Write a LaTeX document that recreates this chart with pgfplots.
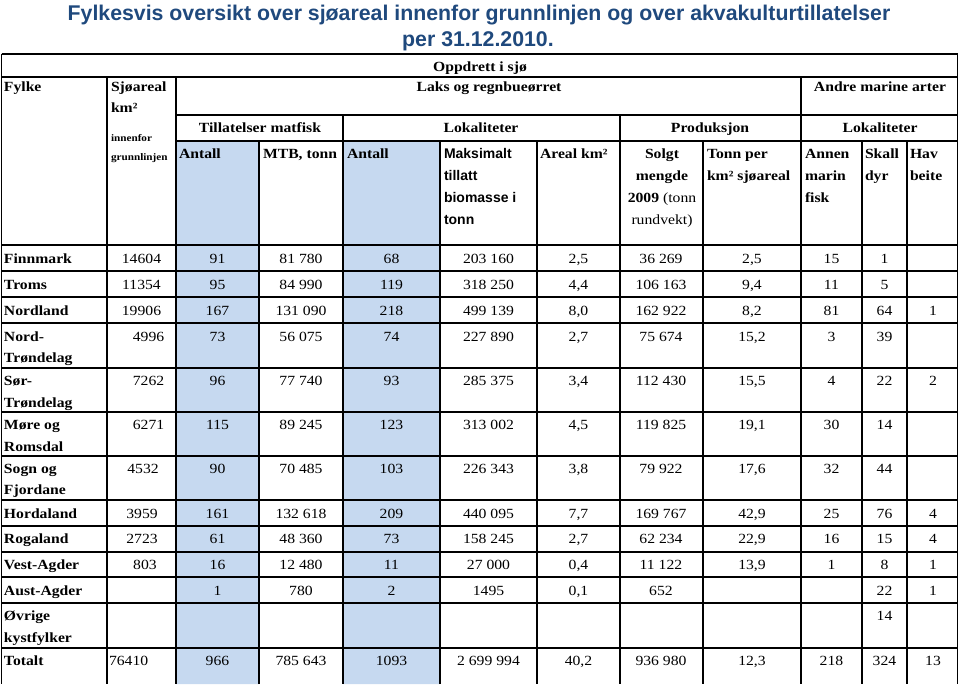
\documentclass[border=0pt]{standalone}
\usepackage{pgfplots}
\pgfplotsset{compat=1.18}
\usepackage{fontspec}
\setmainfont{Liberation Serif}[FakeStretch=1.12]
\newfontfamily\arialfont{Liberation Sans}
\definecolor{cellblue}{RGB}{198,217,240}
\definecolor{titleblue}{RGB}{31,73,125}
\pgfplotsset{
  txtbase/.style={only marks, mark=none, nodes near coords, point meta=explicit symbolic,
     every node near coord/.append style={inner sep=0pt, outer sep=0pt, text=black}},
  txtBL/.style={txtbase, every node near coord/.append style={anchor=base west, font=\fontsize{14}{16}\selectfont\bfseries}},
  txtBC/.style={txtbase, every node near coord/.append style={anchor=base, font=\fontsize{14}{16}\selectfont\bfseries}},
  txtRC/.style={txtbase, every node near coord/.append style={anchor=base, font=\fontsize{14}{16}\selectfont}},
  txtRL/.style={txtbase, every node near coord/.append style={anchor=base west, font=\fontsize{14}{16}\selectfont}},
  txtSL/.style={txtbase, every node near coord/.append style={anchor=base west, font=\fontsize{10}{12}\selectfont\bfseries}},
  txtAL/.style={txtbase, every node near coord/.append style={anchor=base west, font=\arialfont\fontsize{14}{16}\selectfont\bfseries}},
  txtT/.style={txtbase, every node near coord/.append style={anchor=base, text=titleblue, font=\arialfont\fontsize{21.3}{25}\selectfont\bfseries}},
}
\begin{document}
\begin{tikzpicture}
\begin{axis}[
  width=959pt, height=684pt, scale only axis, hide axis,
  xmin=0, xmax=959, ymin=0, ymax=684, y dir=reverse,
  enlargelimits=false, clip=false]
% bounding frame (invisible)
\addplot[draw=none] coordinates {(0,0) (959,684)};
% blue shaded columns
\addplot[fill=cellblue, draw=none] coordinates {(176,141) (259,141) (259,684) (176,684) (176,141)};
\addplot[fill=cellblue, draw=none] coordinates {(343,141) (440,141) (440,684) (343,684) (343,141)};
% grid lines
\addplot[black, line width=1.7pt, unbounded coords=jump] table {
x y
1.5 54
957.5 54
nan nan
1.5 77
957.5 77
nan nan
176 115
957.5 115
nan nan
176 141
957.5 141
nan nan
1.5 245
957.5 245
nan nan
1.5 271
957.5 271
nan nan
1.5 297
957.5 297
nan nan
1.5 323
957.5 323
nan nan
1.5 368
957.5 368
nan nan
1.5 412
957.5 412
nan nan
1.5 456
957.5 456
nan nan
1.5 500
957.5 500
nan nan
1.5 526
957.5 526
nan nan
1.5 552
957.5 552
nan nan
1.5 577
957.5 577
nan nan
1.5 603
957.5 603
nan nan
1.5 648
957.5 648
nan nan
1.5 54
1.5 684
nan nan
957.5 54
957.5 684
nan nan
107 77
107 684
nan nan
176 77
176 684
nan nan
801 77
801 684
nan nan
343 115
343 684
nan nan
620 115
620 684
nan nan
259 141
259 684
nan nan
440 141
440 684
nan nan
537 141
537 684
nan nan
703 141
703 684
nan nan
862 141
862 684
nan nan
907 141
907 684
};
% title
\addplot[txtT] table[x=x, y=y, meta=t, col sep=semicolon] {
x;y;t
479;21;Fylkesvis oversikt over sjøareal innenfor grunnlinjen og over akvakulturtillatelser
478;47;per 31.12.2010.
};
% bold left texts
\addplot[txtBL] table[x=x, y=y, meta=t, col sep=semicolon] {
x;y;t
4;92;Fylke
111;92;Sjøareal
111;113;km²
179;158;Antall
263;158;MTB, tonn
347;158;Antall
540;158;Areal km²
707;158;Tonn per
707;180;km² sjøareal
805;158;Annen
805;180;marin
805;202;fisk
865;158;Skall
865;180;dyr
910;158;Hav
910;180;beite
4;263;Finnmark
4;289;Troms
4;315;Nordland
4;341;Nord-
4;362;Trøndelag
4;385;Sør-
4;407;Trøndelag
4;429;Møre og
4;451;Romsdal
4;473;Sogn og
4;494;Fjordane
4;518;Hordaland
4;543;Rogaland
4;569;Vest-Agder
4;595;Aust-Agder
4;620;Øvrige
4;642;kystfylker
4;665;Totalt
};
% bold centred texts
\addplot[txtBC] table[x=x, y=y, meta=t, col sep=semicolon] {
x;y;t
480;71;Oppdrett i sjø
489;92;Laks og regnbueørret
880;92;Andre marine arter
260;132;Tillatelser matfisk
481;132;Lokaliteter
710;132;Produksjon
880;132;Lokaliteter
662;158;Solgt
662;180;mengde
};
% small bold
\addplot[txtSL] table[x=x, y=y, meta=t, col sep=semicolon] {
x;y;t
111;141;innenfor
111;160;grunnlinjen
};
% sans header
\addplot[txtAL] table[x=x, y=y, meta=t, col sep=semicolon] {
x;y;t
444;158;Maksimalt
444;180;tillatt
444;202;biomasse i
444;224;tonn
};
% regular left
\addplot[txtRL] table[x=x, y=y, meta=t, col sep=semicolon] {
x;y;t
109;665;76410
};
% regular centred (data)
\addplot[txtRC] table[x=x, y=y, meta=t, col sep=semicolon] {
x;y;t
662;202;\textbf{2009} (tonn
662;224;rundvekt)
141.5;263;14604
217.5;263;91
301;263;81 780
391.5;263;68
488.5;263;203 160
578.5;263;2,5
661;263;36 269
752;263;2,5
831.5;263;15
884.5;263;1
141.5;289;11354
217.5;289;95
301;289;84 990
391.5;289;119
488.5;289;318 250
578.5;289;4,4
661;289;106 163
752;289;9,4
831.5;289;11
884.5;289;5
141.5;315;19906
217.5;315;167
301;315;131 090
391.5;315;218
488.5;315;499 139
578.5;315;8,0
661;315;162 922
752;315;8,2
831.5;315;81
884.5;315;64
933;315;1
148.5;341;4996
217.5;341;73
301;341;56 075
391.5;341;74
488.5;341;227 890
578.5;341;2,7
661;341;75 674
752;341;15,2
831.5;341;3
884.5;341;39
148.5;385;7262
217.5;385;96
301;385;77 740
391.5;385;93
488.5;385;285 375
578.5;385;3,4
661;385;112 430
752;385;15,5
831.5;385;4
884.5;385;22
933;385;2
148.5;429;6271
217.5;429;115
301;429;89 245
391.5;429;123
488.5;429;313 002
578.5;429;4,5
661;429;119 825
752;429;19,1
831.5;429;30
884.5;429;14
143;473;4532
217.5;473;90
301;473;70 485
391.5;473;103
488.5;473;226 343
578.5;473;3,8
661;473;79 922
752;473;17,6
831.5;473;32
884.5;473;44
142;518;3959
217.5;518;161
301;518;132 618
391.5;518;209
488.5;518;440 095
578.5;518;7,7
661;518;169 767
752;518;42,9
831.5;518;25
884.5;518;76
933;518;4
142;543;2723
217.5;543;61
301;543;48 360
391.5;543;73
488.5;543;158 245
578.5;543;2,7
661;543;62 234
752;543;22,9
831.5;543;16
884.5;543;15
933;543;4
145;569;803
217.5;569;16
301;569;12 480
391.5;569;11
488.5;569;27 000
578.5;569;0,4
661;569;11 122
752;569;13,9
831.5;569;1
884.5;569;8
933;569;1
217.5;595;1
301;595;780
391.5;595;2
488.5;595;1495
578.5;595;0,1
661;595;652
884.5;595;22
933;595;1
884.5;620;14
217.5;665;966
301;665;785 643
391.5;665;1093
488.5;665;2 699 994
578.5;665;40,2
661;665;936 980
752;665;12,3
831.5;665;218
884.5;665;324
933;665;13
};
\end{axis}
\end{tikzpicture}
\end{document}
